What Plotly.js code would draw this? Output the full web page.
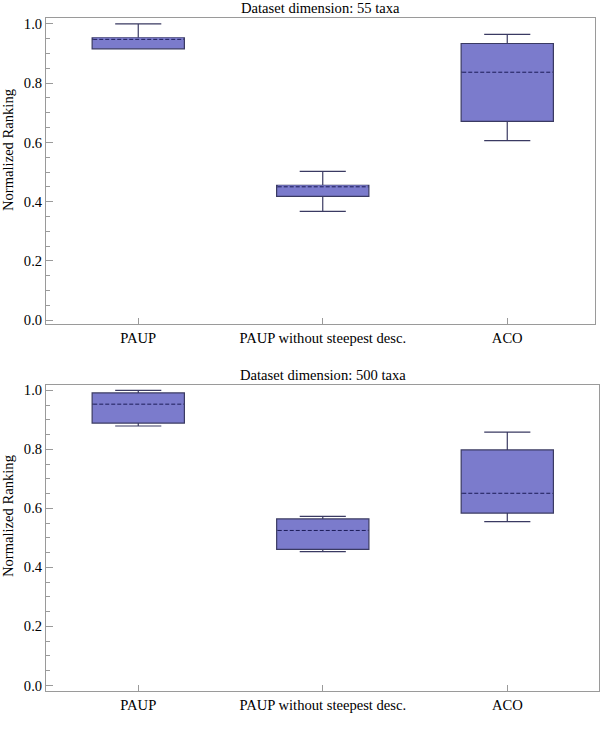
<!DOCTYPE html>
<html>
<head>
<meta charset="utf-8">
<script src="https://cdn.plot.ly/plotly-3.0.1.min.js"></script>
<style>html,body{margin:0;padding:0;background:#fff;}#chart{width:600px;height:733px;}</style>
</head>
<body>
<div id="chart"></div>
<script>
// ---- data ----
const categories = ['PAUP', 'PAUP without steepest desc.', 'ACO'];
const catIndex = [0, 1, 2];
const yTickVals = [0, 0.2, 0.4, 0.6, 0.8, 1.0];
const yTickText = ['0.0', '0.2', '0.4', '0.6', '0.8', '1.0'];

const title55 = 'Dataset dimension: 55 taxa';
const lower55 = [0.916, 0.367, 0.606];
const q1_55 = [0.916, 0.418, 0.671];
const median55 = [0.948, 0.450, 0.837];
const q3_55 = [0.953, 0.455, 0.934];
const upper55 = [1.000, 0.502, 0.965];

const title500 = 'Dataset dimension: 500 taxa';
const lower500 = [0.879, 0.453, 0.555];
const q1_500 = [0.889, 0.461, 0.584];
const median500 = [0.953, 0.525, 0.651];
const q3_500 = [0.991, 0.564, 0.798];
const upper500 = [1.000, 0.573, 0.858];

const yTitle = 'Normalized Ranking';

// ---- styles ----
const FONT = 'Liberation Serif, Times New Roman, serif';
const FS = 14.6;
const FILL = '#7b7bcc';
const EDGE = '#3a3a62';
const MEDC = '#1c1c58';
const FRAME = '#9a9a9a';
const BOXW = 0.5;

function boxTrace(lo, q1, med, q3, hi, xa, ya) {
  return {
    type: 'box', x: catIndex, q1: q1, median: med, q3: q3,
    lowerfence: lo, upperfence: hi,
    width: BOXW, whiskerwidth: 0.5,
    fillcolor: FILL, line: {color: EDGE, width: 1.2},
    boxpoints: false, hoverinfo: 'skip', showlegend: false,
    xaxis: xa, yaxis: ya
  };
}
function medianSegments(med) {
  const xs = [], ys = [];
  catIndex.forEach((c, i) => {
    xs.push(c - BOXW / 2 + 0.006, c + BOXW / 2 - 0.006, null);
    ys.push(med[i], med[i], null);
  });
  return {xs, ys};
}
function medianTraces(med, xa, ya) {
  const s = medianSegments(med);
  return [
    {type: 'scatter', mode: 'lines', x: s.xs, y: s.ys, line: {color: FILL, width: 3},
     hoverinfo: 'skip', showlegend: false, xaxis: xa, yaxis: ya},
    {type: 'scatter', mode: 'lines', x: s.xs, y: s.ys, line: {color: MEDC, width: 1, dash: '4px,2px'},
     hoverinfo: 'skip', showlegend: false, xaxis: xa, yaxis: ya}
  ];
}

const data = [
  boxTrace(lower55, q1_55, median55, q3_55, upper55, 'x', 'y'),
  ...medianTraces(median55, 'x', 'y'),
  boxTrace(lower500, q1_500, median500, q3_500, upper500, 'x2', 'y2'),
  ...medianTraces(median500, 'x2', 'y2')
];

function xAxis(domain, range, anchor) {
  return {
    domain: domain, range: range, anchor: anchor,
    tickmode: 'array', tickvals: catIndex, ticktext: categories,
    ticks: 'inside', ticklen: 6, tickcolor: FRAME, tickwidth: 1,
    showline: true, mirror: true, linecolor: FRAME, linewidth: 1,
    showgrid: false, zeroline: false,
    tickfont: {family: FONT, size: FS, color: '#000'}
  };
}
function yAxis(domain, range, anchor) {
  return {
    domain: domain, range: range, anchor: anchor,
    tickmode: 'array', tickvals: yTickVals, ticktext: yTickText,
    ticks: 'inside', ticklen: 7, tickcolor: FRAME, tickwidth: 1,
    minor: {dtick: 0.05, tick0: 0, ticks: 'inside', ticklen: 4, tickcolor: FRAME, showgrid: false},
    showline: true, mirror: true, linecolor: FRAME, linewidth: 1,
    showgrid: false, zeroline: false,
    tickfont: {family: FONT, size: FS, color: '#000'}
  };
}

const layout = {
  width: 600, height: 733,
  margin: {l: 46, r: 1, t: 0, b: 0, pad: 0},
  paper_bgcolor: '#fff', plot_bgcolor: '#fff',
  showlegend: false,
  font: {family: FONT, size: FS, color: '#000'},
  xaxis: xAxis([0, 0.9919], [-0.5, 2.473], 'y'),
  yaxis: yAxis([0.5573, 0.9754], [-0.015, 1.02], 'x'),
  xaxis2: xAxis([0, 1], [-0.5, 2.497], 'y2'),
  yaxis2: yAxis([0.0569, 0.4752], [-0.02, 1.019], 'x2'),
  annotations: [
    {text: title55, xref: 'x domain', yref: 'y domain', x: 0.5, y: 1, xanchor: 'center', yanchor: 'bottom',
     showarrow: false, font: {family: FONT, size: FS, color: '#000'}},
    {text: title500, xref: 'x2 domain', yref: 'y2 domain', x: 0.5, y: 1, xanchor: 'center', yanchor: 'bottom',
     showarrow: false, font: {family: FONT, size: FS, color: '#000'}},
    {text: yTitle, xref: 'paper', yref: 'paper', x: -0.0687, y: 0.7954, xanchor: 'center', yanchor: 'middle',
     textangle: -90, showarrow: false, font: {family: FONT, size: FS, color: '#000'}},
    {text: yTitle, xref: 'paper', yref: 'paper', x: -0.0687, y: 0.296, xanchor: 'center', yanchor: 'middle',
     textangle: -90, showarrow: false, font: {family: FONT, size: FS, color: '#000'}}
  ]
};

Plotly.newPlot('chart', data, layout, {staticPlot: true, displayModeBar: false});
</script>
</body>
</html>
